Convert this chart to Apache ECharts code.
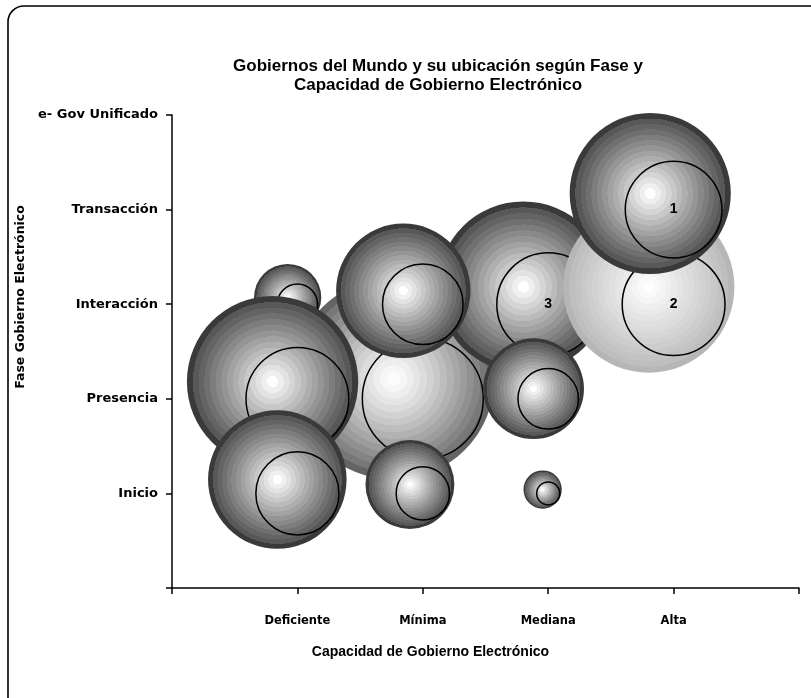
<!DOCTYPE html>
<html>
<head>
<meta charset="utf-8">
<title>Gobiernos del Mundo</title>
<script src="https://cdn.jsdelivr.net/npm/echarts@6/dist/echarts.min.js"></script>
<style>
html, body { margin: 0; padding: 0; background: #ffffff; }
#chart { width: 811px; height: 698px; }
</style>
</head>
<body>
<div id="chart"></div>
<script>
// etiquetas de los ejes (posicion 1..4 en X, 0..5 en Y)
const capacidad = ['Deficiente', 'Mínima', 'Mediana', 'Alta']
const fases = ['', 'Inicio', 'Presencia', 'Interacción', 'Transacción', 'e- Gov Unificado']

// burbujas, en el orden en que se dibujan (las ultimas quedan encima)
const burbujaX = [1, 2, 3, 1, 4, 4, 1, 2, 3, 2, 3]
const burbujaY = [3, 2, 3, 2, 3, 4, 1, 3, 2, 1, 1]
const burbujaTam = [4, 36, 26, 26, 26, 23, 17, 16, 9, 7, 1.3]
const burbujaTexto = ['', '', '3', '', '2', '1', '', '', '', '', '']

// tono de cada burbuja (solo estilo)
const tonos = ['oscuro', 'medio', 'oscuro', 'oscuro', 'claro', 'oscuro', 'oscuro', 'oscuro', 'oscuro', 'oscuro', 'oscuro']

const gris = v => 'rgb(' + v + ',' + v + ',' + v + ')'

// degradado por bandas, como las esferas 3D de Excel
function bandas(c0, c1, cBorde, pot){
    const stops = []
    const n = 14, ini = 0.93
    for(let i = 0; i < n; i++){
        const v = Math.round(c0 - (c0 - c1) * Math.pow(i / (n - 1), pot))
        stops.push({offset: i / n * ini, color: gris(v)})
        stops.push({offset: (i + 1) / n * ini, color: gris(v)})
    }
    stops.push({offset: ini, color: gris(cBorde)}, {offset: 1, color: gris(cBorde)})
    return stops
}
const degradados = {
    oscuro: bandas(254, 88, 58, 0.95),
    medio: bandas(252, 120, 100, 1.2),
    claro: bandas(254, 190, 182, 1)
}

const escala = 16.8
const fuente = '"DejaVu Sans", Verdana, sans-serif'

const chart = echarts.init(document.getElementById('chart'), null, {renderer: 'canvas'})

const option = {
    backgroundColor: '#ffffff',
    animation: false,
    title: {
        text: 'Gobiernos del Mundo y su ubicación según Fase y\nCapacidad de Gobierno Electrónico',
        left: 433,
        textAlign: 'center',
        top: 52,
        textStyle: {
            fontFamily: 'Liberation Sans, Arial, sans-serif',
            fontWeight: 'bold',
            fontSize: 17,
            lineHeight: 19,
            color: '#000'
        }
    },
    graphic: [{
        type: 'rect',
        shape: {x: 8, y: 6, width: 1000, height: 1000, r: 16},
        style: {fill: 'none', stroke: '#000', lineWidth: 1.6},
        silent: true
    }],
    grid: {left: 172, right: 12, top: 115, bottom: 110},
    xAxis: {
        type: 'value',
        min: 0,
        max: 5,
        interval: 1,
        name: 'Capacidad de Gobierno Electrónico',
        nameLocation: 'middle',
        nameGap: 57,
        nameTextStyle: {
            fontFamily: 'Liberation Sans, Arial, sans-serif',
            fontWeight: 'bold',
            fontSize: 14,
            color: '#000',
            padding: [0, 110, 0, 0]
        },
        axisLine: {lineStyle: {color: '#000', width: 1.5}},
        axisTick: {length: 6, lineStyle: {color: '#000', width: 1.5}},
        splitLine: {show: false},
        axisLabel: {
            margin: 27,
            fontFamily: fuente,
            fontWeight: 'bold',
            fontSize: 11.5,
            color: '#000',
            formatter: v => capacidad[v - 1] || ''
        }
    },
    yAxis: {
        type: 'value',
        min: 0,
        max: 5,
        interval: 1,
        name: 'Fase Gobierno Electrónico',
        nameLocation: 'middle',
        nameRotate: 90,
        nameGap: 142,
        nameTextStyle: {
            fontFamily: fuente,
            fontWeight: 'bold',
            fontSize: 12.5,
            color: '#000',
            padding: [0, 0, 0, 109]
        },
        axisLine: {show: true, lineStyle: {color: '#000', width: 1.5}},
        axisTick: {show: true, length: 6, lineStyle: {color: '#000', width: 1.5}},
        splitLine: {show: false},
        axisLabel: {
            margin: 14,
            fontFamily: fuente,
            fontWeight: 'bold',
            fontSize: 13,
            color: '#000',
            formatter: v => fases[v] || ''
        }
    },
    series: [{
        type: 'custom',
        coordinateSystem: 'cartesian2d',
        data: burbujaX.map((x, i) => [x, burbujaY[i], burbujaTam[i]]),
        renderItem: function(params, api){
            const p = api.coord([api.value(0), api.value(1)])
            const R = escala * Math.sqrt(api.value(2))
            const idx = params.dataIndex
            const children = [{
                type: 'circle',
                shape: {cx: p[0] - 0.29 * R, cy: p[1] - 0.2 * R, r: R},
                style: {
                    fill: new echarts.graphic.RadialGradient(0.5, 0.5, 0.5, degradados[tonos[idx]])
                }
            }, {
                type: 'circle',
                shape: {cx: p[0], cy: p[1], r: 0.6 * R},
                style: {fill: 'none', stroke: '#000', lineWidth: 1.5}
            }]
            if(burbujaTexto[idx]){
                children.push({
                    type: 'text',
                    x: p[0],
                    y: p[1],
                    style: {
                        text: burbujaTexto[idx],
                        align: 'center',
                        verticalAlign: 'middle',
                        font: 'bold 14px "Liberation Sans", Arial, sans-serif',
                        fill: '#000'
                    }
                })
            }
            return {type: 'group', children: children}
        }
    }]
}

chart.setOption(option)
</script>
</body>
</html>
